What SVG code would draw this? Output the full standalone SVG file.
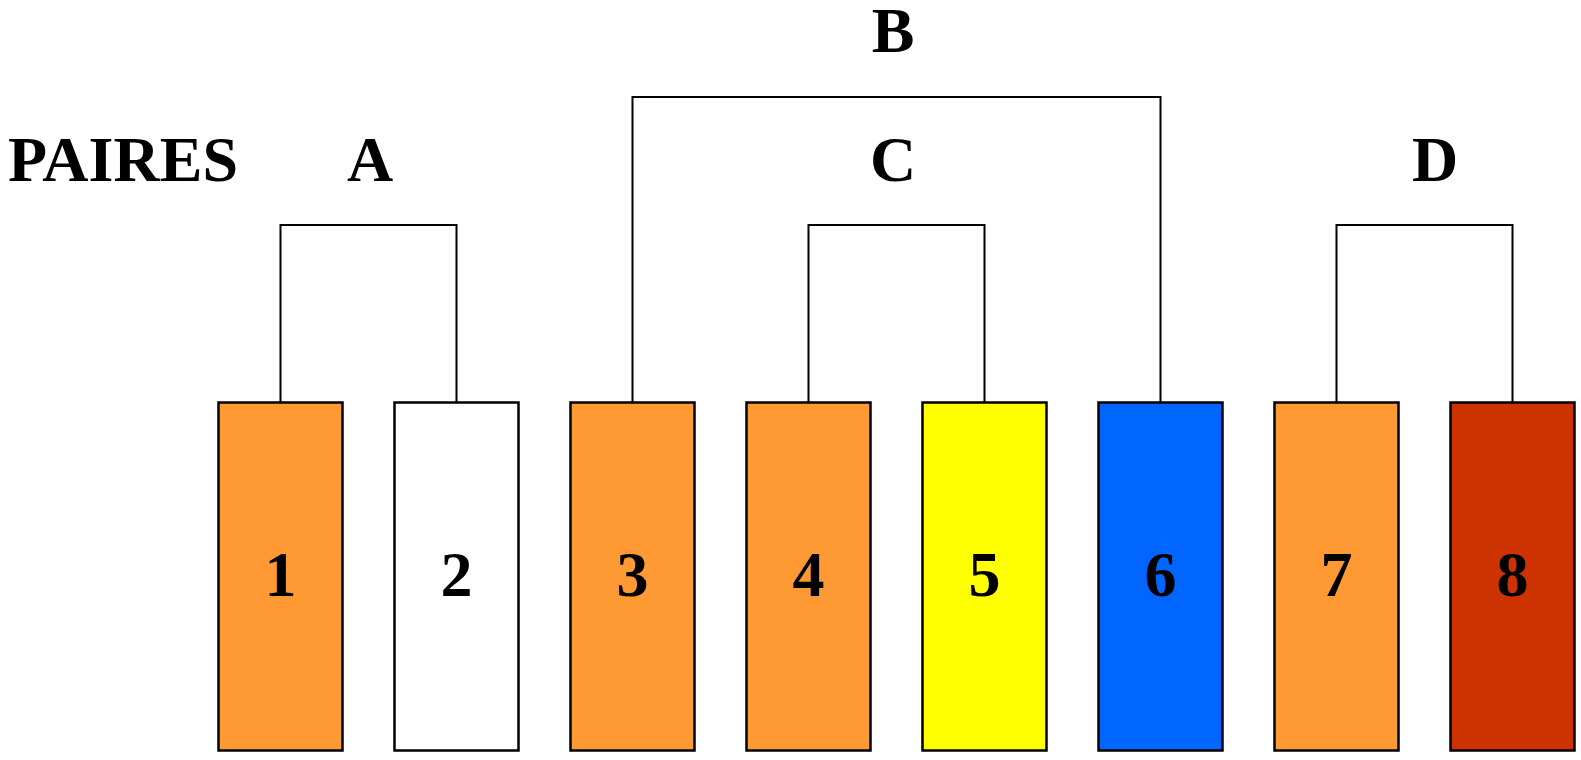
<svg xmlns="http://www.w3.org/2000/svg" width="1581" height="760" viewBox="0 0 1581 760">
<style>
.box{stroke:#000;stroke-width:2.5}
.lbl{font-family:"Liberation Serif","Times New Roman",serif;font-weight:bold;font-size:64px;fill:#000;text-anchor:middle}
.con{fill:none;stroke:#000;stroke-width:2}
</style>
<rect width="1581" height="760" fill="#fff"/>
<g id="labels">
<text class="lbl" x="8" y="181" style="text-anchor:start">PAIRES</text>
<text class="lbl" x="370" y="181">A</text>
<text class="lbl" x="893" y="52">B</text>
<text class="lbl" x="893" y="181">C</text>
<text class="lbl" x="1435" y="181">D</text>
</g>
<g id="connectors">
<polyline class="con" points="280.5,402 280.5,225 456.5,225 456.5,402"/>
<polyline class="con" points="632.5,402 632.5,97 1160.5,97 1160.5,402"/>
<polyline class="con" points="808.5,402 808.5,225 984.5,225 984.5,402"/>
<polyline class="con" points="1336.5,402 1336.5,225 1512.5,225 1512.5,402"/>
</g>
<g id="n1"><rect class="box" x="218.5" y="402.5" width="124" height="348" fill="#FF9933"/><text class="lbl" x="280.5" y="596">1</text></g>
<g id="n2"><rect class="box" x="394.5" y="402.5" width="124" height="348" fill="#FFFFFF"/><text class="lbl" x="456.5" y="596">2</text></g>
<g id="n3"><rect class="box" x="570.5" y="402.5" width="124" height="348" fill="#FF9933"/><text class="lbl" x="632.5" y="596">3</text></g>
<g id="n4"><rect class="box" x="746.5" y="402.5" width="124" height="348" fill="#FF9933"/><text class="lbl" x="808.5" y="596">4</text></g>
<g id="n5"><rect class="box" x="922.5" y="402.5" width="124" height="348" fill="#FFFF00"/><text class="lbl" x="984.5" y="596">5</text></g>
<g id="n6"><rect class="box" x="1098.5" y="402.5" width="124" height="348" fill="#0066FF"/><text class="lbl" x="1160.5" y="596">6</text></g>
<g id="n7"><rect class="box" x="1274.5" y="402.5" width="124" height="348" fill="#FF9933"/><text class="lbl" x="1336.5" y="596">7</text></g>
<g id="n8"><rect class="box" x="1450.5" y="402.5" width="124" height="348" fill="#CC3300"/><text class="lbl" x="1512.5" y="596">8</text></g>
</svg>
